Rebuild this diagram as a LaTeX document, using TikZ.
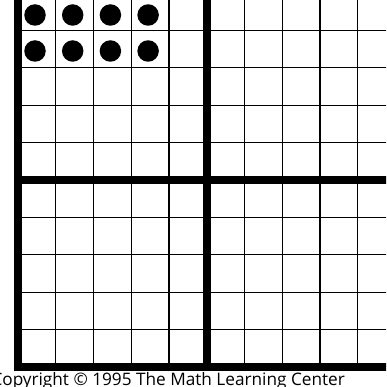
\documentclass[tikz,border=0pt]{standalone}
\usepackage{fontspec}
\setmainfont{Open Sans}
\begin{document}
\begin{tikzpicture}[
    x=1pt, y=-1pt,
    cellline/.style={line width=1.2pt, draw=black},
    heavyline/.style={line width=7.5pt, draw=black, line join=miter},
    counter/.style={circle, fill=black, minimum size=21.5pt, inner sep=0pt},
    credit/.style={font=\fontsize{17.2}{20}\selectfont, anchor=base east, inner sep=0pt},
]
\clip (0,0) rectangle (386,387);
% thin cell lines
\foreach \i in {1,2,3,4,6,7,8,9}
  \draw[cellline] ({18+37.75*\i},-10) -- ({18+37.75*\i},367);
\foreach \j in {1,2,3,4,6,7,8,9}
  \draw[cellline] (18,{367-37.4*\j}) -- (400,{367-37.4*\j});
% heavy frame and quadrant lines
\draw[heavyline] (18,-10) -- (18,367) -- (400,367);
\draw[heavyline] (206.75,-10) -- (206.75,367);
\draw[heavyline] (18,180) -- (400,180);
% counters
\foreach \r in {0,1}
  \foreach \c in {0,1,2,3}
    \node[counter] (dot-\r-\c) at ({35+37.7*\c},{15+36*\r}) {};
\node[credit] (copyright) at (345,385) {Copyright © 1995 The Math Learning Center};
\end{tikzpicture}
\end{document}
